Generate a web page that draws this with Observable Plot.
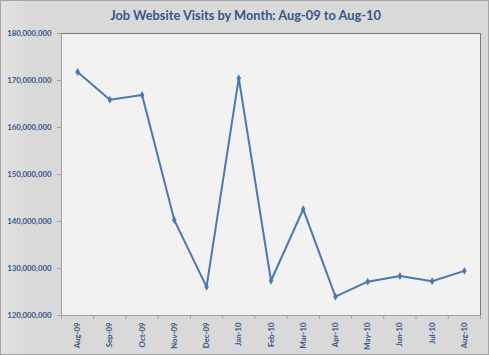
<!DOCTYPE html>
<html>
<head>
<meta charset="utf-8">
<script src="https://cdn.jsdelivr.net/npm/d3@7"></script>
<script src="https://cdn.jsdelivr.net/npm/@observablehq/plot@0.6"></script>
<style>
  html, body { margin: 0; padding: 0; }
  #chart {
    width: 489px; height: 355px; box-sizing: border-box;
    border: 1px solid #a6a6a6;
    background: linear-gradient(to right, #e2e2e2 0px, #d9d9d9 30px, #d9d9d9 100%);
    position: relative; overflow: hidden;
    font-family: Lato, "Open Sans", sans-serif;
  }
  #title {
    height: 26px; line-height: 28px; text-align: center;
    font-weight: bold; font-size: 12.8px; color: #355689;
    padding-left: 2px;
  }
  #chart svg { display: block; background: transparent; }
</style>
</head>
<body>
<div id="chart"><div id="title">Job Website Visits by Month: Aug-09 to Aug-10</div></div>
<script>
const months = ["Aug-09","Sep-09","Oct-09","Nov-09","Dec-09","Jan-10","Feb-10","Mar-10","Apr-10","May-10","Jun-10","Jul-10","Aug-10"];
const visits = [171800000,165900000,166900000,140300000,126100000,170500000,127400000,142600000,124000000,127200000,128400000,127300000,129500000];
const yTicks = [120000000,130000000,140000000,150000000,160000000,170000000,180000000];

const data = months.map((m, i) => ({i, month: m, value: visits[i]}));
const centers = months.map((m, i) => i);
const bounds = [-0.5, ...months.map((m, i) => i + 0.5)];

const blue = "#4a78b0";
const textColor = "#355689";

const plot = Plot.plot({
  width: 487,
  height: 327,
  marginLeft: 60,
  marginRight: 8,
  marginTop: 6,
  marginBottom: 39,
  style: {background: "transparent", fontFamily: "Lato, 'Open Sans', sans-serif"},
  x: {type: "linear", domain: [-0.5, 12.5]},
  y: {domain: [120000000, 180000000]},
  marks: [
    Plot.frame({fill: "#f2f2f2", stroke: null}),
    Plot.frame({anchor: "top", stroke: "#7a7a7a"}),
    Plot.frame({anchor: "right", stroke: "#7a7a7a"}),
    Plot.axisY({
      ticks: yTicks, tickSize: 4, tickPadding: 6, stroke: "#a0a0a0",
      tickFormat: d3.format(","), label: null,
      fill: textColor, fontWeight: "bold", fontSize: 7.8
    }),
    Plot.ruleX([-0.5], {stroke: "#a0a0a0"}),
    Plot.ruleY([120000000], {stroke: "#a0a0a0"}),
    Plot.axisX({ticks: bounds, tickSize: 4, tickFormat: () => "", stroke: "#a0a0a0", label: null}),
    Plot.axisX({
      ticks: centers, tickSize: 0, tickPadding: 7, tickRotate: -90,
      tickFormat: i => months[i], label: null,
      fill: textColor, fontWeight: "bold", fontSize: 7.8
    }),
    Plot.line(data, {x: "i", y: "value", stroke: blue, strokeWidth: 2}),
    Plot.dot(data, {x: "i", y: "value", symbol: "diamond", r: 2.4, fill: blue, stroke: null})
  ]
});
document.getElementById("chart").appendChild(plot);
</script>
</body>
</html>
